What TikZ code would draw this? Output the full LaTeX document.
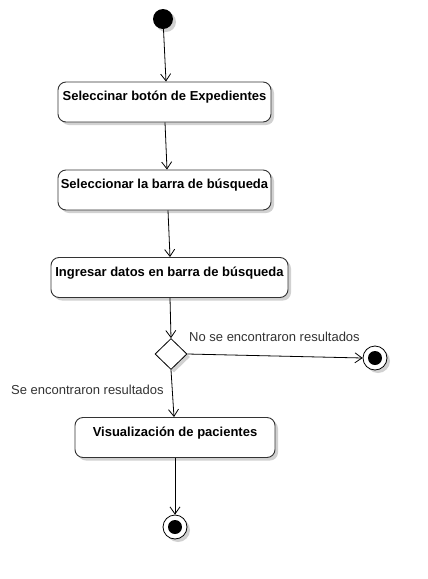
\documentclass[tikz,border=0pt]{standalone}
\usepackage{fontspec}
\setmainfont{Liberation Sans}
\usetikzlibrary{arrows.meta,shapes.geometric,shadows}
\definecolor{edge}{HTML}{333333}
\definecolor{lbl}{HTML}{333333}
\tikzset{
  shd/.style={drop shadow={shadow xshift=3pt,shadow yshift=-3pt,opacity=0.18,fill=black}},
  actbox/.style={draw=edge,line width=0.9pt,rounded corners=8pt,fill=white,shd,
    minimum width=#1,inner xsep=0pt,inner ysep=5pt,text height=13.5pt,text depth=16.5pt,
    font=\fontsize{13}{15}\selectfont\bfseries},
  startdot/.style={circle,fill=black,minimum size=20pt,inner sep=0pt,shd},
  endring/.style={circle,draw=black,line width=0.8pt,fill=white,minimum size=24pt,inner sep=0pt,shd},
  enddot/.style={circle,fill=black,minimum size=14pt,inner sep=0pt},
  decision/.style={diamond,draw=black,line width=0.8pt,fill=white,inner sep=0pt,minimum width=32pt,minimum height=31pt,shd},
  flow/.style={draw=black,line width=0.8pt,-{Straight Barb[length=7pt,width=10pt]}},
  guard/.style={text=lbl,font=\fontsize{13}{15}\selectfont,inner sep=0pt}
}
\begin{document}
\begin{tikzpicture}[x=1pt,y=-1pt]
\useasboundingbox[fill=white] (0,0) rectangle (428,579);
\node[startdot] (start) at (163,19) {};
\node[actbox=213pt] (b1) at (164.5,102) {Seleccinar botón de Expedientes};
\node[actbox=213pt] (b2) at (164.5,190) {Seleccionar la barra de búsqueda};
\node[actbox=237pt] (b3) at (169.5,277.5) {Ingresar datos en barra de búsqueda};
\node[decision] (d) at (171,354) {};
\node[endring] (e1) at (375,358) {};
\node[enddot] (e1i) at (e1) {};
\node[actbox=200pt] (b4) at (175,437.5) {Visualización de pacientes};
\node[endring] (e2) at (175,527) {};
\node[enddot] (e2i) at (e2) {};
\node[guard,anchor=west] (g1) at (189,337) {No se encontraron resultados};
\node[guard,anchor=west] (g2) at (11,390) {Se encontraron resultados};
\draw[flow] (start) -- ([xshift=1.5pt]b1.north);
\draw[flow] ([xshift=0.5pt]b1.south) -- ([xshift=2.5pt]b2.north);
\draw[flow] ([xshift=3.5pt]b2.south) -- ([xshift=0.5pt]b3.north);
\draw[flow] ([xshift=0.5pt]b3.south) -- (d.north);
\draw[flow] (d.east) -- (e1.west);
\draw[flow] (d.south) -- ([xshift=-1pt]b4.north);
\draw[flow] (b4.south) -- (e2.north);
\end{tikzpicture}
\end{document}
